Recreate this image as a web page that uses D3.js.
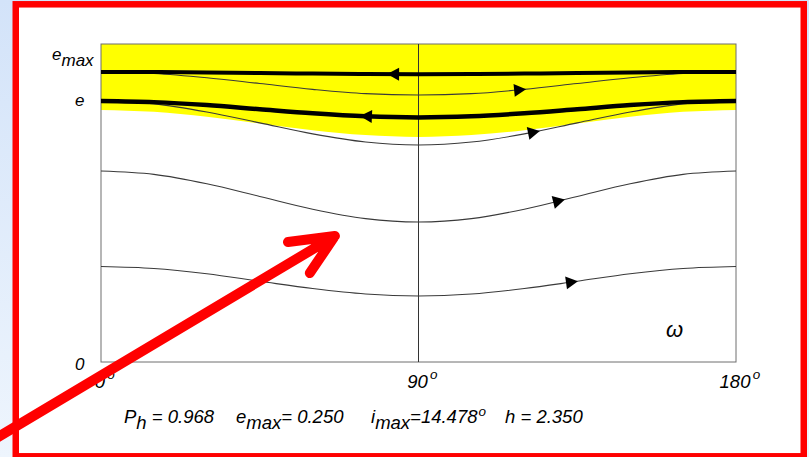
<!DOCTYPE html>
<html><head><meta charset="utf-8">
<script src="https://cdn.jsdelivr.net/npm/d3@7"></script>
<style>body{margin:0;background:#fff;} svg{display:block;} text{font-family:"Liberation Sans",Arial,sans-serif;font-style:italic;}</style>
</head><body>
<svg id="c" width="809" height="457"></svg>
<script>
// ---- data ----
const omega = [0,15,30,45,60,75,90,105,120,135,150,165,180];
const eThick1 = [0.2500,0.2500,0.2496,0.2490,0.2486,0.2482,0.2481,0.2482,0.2486,0.2490,0.2496,0.2500,0.2500];
const eThin2  = [0.2500,0.2487,0.2450,0.2400,0.2350,0.2313,0.2302,0.2313,0.2350,0.2400,0.2450,0.2487,0.2500];
const eThick3 = [0.2250,0.2240,0.2215,0.2179,0.2144,0.2118,0.2108,0.2118,0.2144,0.2179,0.2215,0.2240,0.2250];
const eThin4  = [0.2250,0.2225,0.2155,0.2061,0.1966,0.1896,0.1871,0.1896,0.1966,0.2061,0.2155,0.2225,0.2250];
const eThin5  = [0.1646,0.1617,0.1536,0.1427,0.1317,0.1236,0.1207,0.1236,0.1317,0.1427,0.1536,0.1617,0.1646];
const eThin6  = [0.0823,0.0806,0.0760,0.0696,0.0633,0.0586,0.0569,0.0586,0.0633,0.0696,0.0760,0.0806,0.0823];
const eYellowLow = [0.2172,0.2156,0.2114,0.2056,0.1998,0.1956,0.1940,0.1956,0.1998,0.2056,0.2114,0.2156,0.2172];
const eTop = 0.2741;
// arrows: series, omega of tip, direction (+1 right, -1 left)
const arrowSeries = ["thick1","thin2","thick3","thin4","thin5","thin6"];
const arrowOmega  = [81.1, 120.5, 73.4, 124.4, 131.5, 135.2];
const arrowDir    = [-1, 1, -1, 1, 1, 1];
const xTicks = [0, 90, 180];
const yLabels = [{t:"e", sub:"max", v:0.25}, {t:"e", sub:"", v:0.225}, {t:"0", sub:"", v:0}];
const params = [["P","h"," = 0.968",""],["e","max","= 0.250",""],["i","max","=14.478","o"],["h","", " = 2.350",""]];
// annotation arrow (in data units: omega, e)
const annTail = [-31, -0.068];
const annTip = [66.3, 0.1086];
const annArm1 = [53.0, 0.1034];
const annArm2 = [59.2, 0.0767];

const svg = d3.select("#c");
const defs = svg.append("defs");
const g1 = defs.append("linearGradient").attr("id","bg").attr("x1",0).attr("y1",0).attr("x2",0).attr("y2",1);
g1.append("stop").attr("offset","0%").attr("stop-color","#d3e3f9");
g1.append("stop").attr("offset","100%").attr("stop-color","#eef5fd");
svg.append("rect").attr("width",809).attr("height",457).attr("fill","url(#bg)");
svg.append("rect").attr("x",15.75).attr("y",4.3).attr("width",788).attr("height",452)
  .attr("fill","#fff").attr("stroke","#ff0000").attr("stroke-width",6.5);

const x = d3.scaleLinear().domain([0,180]).range([101,736]);
const y = d3.scaleLinear().domain([0,eTop]).range([362,44]);

// yellow region
const pts = (arr) => omega.map((w,i)=>[w,arr[i]]);
svg.append("path").datum(pts(eYellowLow))
  .attr("d", d3.area().x(d=>x(d[0])).y0(y(eTop)).y1(d=>y(d[1])).curve(d3.curveMonotoneX))
  .attr("fill","#ffff00");

// frame + mid line
svg.append("rect").attr("x",x(0)).attr("y",y(eTop)).attr("width",x(180)-x(0)).attr("height",y(0)-y(eTop))
  .attr("fill","none").attr("stroke","#6e6e6e").attr("stroke-width",1);
svg.append("line").attr("x1",x(90)).attr("x2",x(90)).attr("y1",y(eTop)).attr("y2",y(0))
  .attr("stroke","#333").attr("stroke-width",1);

const line = d3.line().x(d=>x(d[0])).y(d=>y(d[1])).curve(d3.curveMonotoneX);
const series = {
  thin2:{d:eThin2,w:1.1,c:"#3a3a3a"},
  thin4:{d:eThin4,w:1.1,c:"#3a3a3a"},
  thin5:{d:eThin5,w:1.1,c:"#3a3a3a"},
  thin6:{d:eThin6,w:1.1,c:"#3a3a3a"},
  thick1:{d:eThick1,w:4,c:"#000"},
  thick3:{d:eThick3,w:4.5,c:"#000"}
};
const paths = {};
for (const k of ["thin2","thin4","thin5","thin6","thick1","thick3"]) {
  const s = series[k];
  paths[k] = svg.append("path").datum(pts(s.d)).attr("d", line)
    .attr("fill","none").attr("stroke",s.c).attr("stroke-width",s.w).node();
}
function pointAtX(p, tx){
  let lo=0, hi=p.getTotalLength();
  for(let i=0;i<40;i++){const m=(lo+hi)/2; if(p.getPointAtLength(m).x<tx) lo=m; else hi=m;}
  return {l:lo, p:p.getPointAtLength(lo)};
}
arrowSeries.forEach((k,i)=>{
  const p = paths[k];
  const r = pointAtX(p, x(arrowOmega[i]));
  const a = p.getPointAtLength(Math.max(0,r.l-2)), b = p.getPointAtLength(r.l+2);
  let ang = Math.atan2(b.y-a.y, b.x-a.x)*180/Math.PI;
  if (arrowDir[i] < 0) ang += 180;
  svg.append("path").attr("d","M0,0 L-12,-6.5 L-12,6.5 Z")
    .attr("transform",`translate(${r.p.x},${r.p.y}) rotate(${ang})`).attr("fill","#000");
});

// y labels
const ylab = svg.append("g");
const yl0 = ylab.append("text").attr("x",52).attr("y",60).attr("font-size",17).attr("fill","#000");
yl0.append("tspan").text(yLabels[0].t);
yl0.append("tspan").attr("dy",6).attr("font-size",17).text(yLabels[0].sub);
ylab.append("text").attr("x",75).attr("y",y(yLabels[1].v)+5).attr("font-size",17).text(yLabels[1].t);
ylab.append("text").attr("x",75).attr("y",y(yLabels[2].v)+8).attr("font-size",17).text(yLabels[2].t);

// x tick labels
xTicks.forEach(v=>{
  const t = svg.append("text").attr("x",x(v)-1).attr("y",388).attr("font-size",18.5).attr("text-anchor","middle").text(String(v));
  const bb = t.node().getBBox();
  svg.append("text").attr("x",bb.x+bb.width+1.5).attr("y",379).attr("font-size",13.5).text("o");
});

// omega label
svg.append("text").attr("x",666).attr("y",337).attr("font-size",22).text("\u03C9");

// parameter line
const pX = [124, 236, 371, 505];
params.forEach((p,i)=>{
  const t = svg.append("text").attr("x",pX[i]).attr("y",423).attr("font-size",18.5).attr("fill","#000");
  t.append("tspan").text(p[0]);
  if (p[1]) t.append("tspan").attr("dy",6).text(p[1]);
  t.append("tspan").attr("dy",p[1]?-6:0).text(p[2]);
  if (p[3]) t.append("tspan").attr("dy",-7).attr("dx",1).attr("font-size",13.5).text(p[3]);
});

// red annotation arrow
const P = d=>[x(d[0]),y(d[1])];
svg.append("path")
  .attr("d", d3.line()([P(annTail),P(annTip)]) + d3.line()([P(annArm1),P(annTip),P(annArm2)]))
  .attr("fill","none").attr("stroke","#ff0000").attr("stroke-width",10)
  .attr("stroke-linecap","round").attr("stroke-linejoin","round");
</script>
</body></html>
